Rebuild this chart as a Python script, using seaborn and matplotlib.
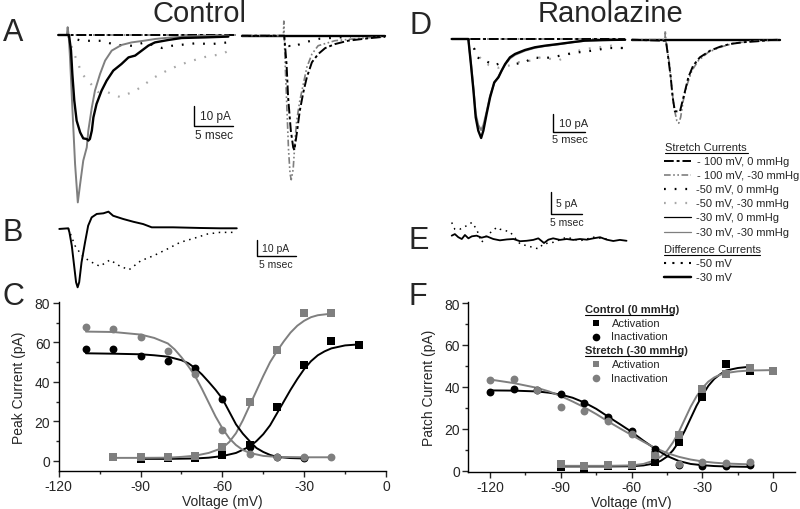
import matplotlib
matplotlib.use("Agg")
import matplotlib.pyplot as plt
import seaborn as sns

sns.set_style("ticks")
plt.rcParams["font.family"] = ["Liberation Sans", "DejaVu Sans"]
plt.rcParams["axes.unicode_minus"] = False

GRAY = "#7f7f7f"
LIGHT = "#a8a8a8"

# ---------------- panel C (control) : voltage (mV) / peak current (pA)
c_ctrl_act_v = [-90, -80, -70, -60, -50, -40, -30, -20, -10]
c_ctrl_act = [1.0, 1.2, 1.2, 2.9, 8.0, 27.1, 48.6, 60.5, 58.5]
c_str_act_v = [-100, -90, -80, -70, -60, -50, -40, -30, -20]
c_str_act = [1.7, 1.7, 1.7, 2.3, 7.1, 29.7, 56.3, 74.9, 74.9]
c_ctrl_inact_v = [-110, -100, -90, -80, -70, -60, -50, -40, -30]
c_ctrl_inact = [56.6, 56.6, 52.9, 50.7, 47.0, 31.4, 7.0, 2.0, 1.5]
c_str_inact_v = [-110, -100, -90, -80, -70, -60, -50, -40, -30, -20]
c_str_inact = [67.6, 66.8, 63.0, 55.9, 43.9, 15.6, 3.7, 2.0, 2.0, 2.0]

# fitted curves
c_fit_ctrl_act_v = [-90, -80, -70, -65, -60, -55, -50, -47.5, -45, -42.5, -40, -37.5, -35,
                    -32.5, -30, -27.5, -25, -22.5, -20, -15, -10]
c_fit_ctrl_act = [1.0, 1.0, 1.2, 1.6, 2.4, 4.0, 7.2, 10.0, 13.5, 18.0, 24.0, 30.0, 36.0,
                  41.5, 46.5, 50.5, 53.5, 55.5, 57.0, 58.5, 59.0]
c_fit_str_act_v = [-100, -90, -80, -75, -70, -65, -60, -57.5, -55, -52.5, -50, -47.5, -45,
                   -42.5, -40, -37.5, -35, -32.5, -30, -27.5, -25, -20]
c_fit_str_act = [1.5, 1.5, 1.6, 2.0, 2.6, 4.0, 6.5, 9.5, 14.0, 20.5, 28.0, 35.5, 43.0,
                 50.0, 55.5, 60.5, 65.0, 68.5, 71.0, 72.8, 73.8, 74.6]
c_fit_ctrl_inact_v = [-110, -100, -90, -85, -80, -75, -72.5, -70, -67.5, -65, -62.5, -60,
                      -57.5, -55, -52.5, -50, -47.5, -45, -42.5, -40, -35, -30]
c_fit_ctrl_inact = [54.5, 54.3, 54.0, 53.5, 52.8, 51.0, 49.5, 47.0, 43.8, 40.0, 36.0, 31.5,
                    25.0, 18.5, 13.8, 10.0, 6.5, 4.5, 3.0, 2.0, 1.4, 1.2]
c_fit_str_inact_v = [-110, -100, -90, -85, -80, -77.5, -75, -72.5, -70, -67.5, -65, -62.5,
                     -60, -57.5, -55, -52.5, -50, -45, -40, -30, -20]
c_fit_str_inact = [65.5, 65.3, 64.0, 62.3, 59.5, 56.5, 52.5, 48.0, 43.0, 36.5, 29.5, 22.5,
                   16.5, 11.5, 8.0, 5.5, 4.0, 2.5, 2.0, 1.8, 1.8]

# ---------------- panel F (ranolazine)
f_ctrl_act_v = [-90, -80, -70, -60, -50, -40, -30, -20, -10]
f_ctrl_act = [1.9, 0.8, 2.0, 2.2, 4.0, 13.9, 35.2, 50.7, 47.7]
f_str_act_v = [-90, -80, -70, -60, -50, -40, -30, -20, -10, 0]
f_str_act = [3.2, 2.4, 2.7, 2.9, 7.7, 16.8, 38.9, 45.9, 48.8, 47.5]
f_ctrl_inact_v = [-120, -110, -100, -90, -80, -70, -60, -50, -40, -30, -20, -10]
f_ctrl_inact = [37.6, 39.2, 38.7, 36.8, 32.5, 25.6, 19.0, 10.1, 2.9, 2.4, 2.4, 2.6]
f_str_inact_v = [-120, -110, -100, -90, -80, -70, -60, -50, -40, -30, -20, -10]
f_str_inact = [43.2, 43.7, 38.4, 30.4, 28.3, 23.5, 17.5, 7.5, 3.2, 4.0, 3.7, 4.3]

f_fit_ctrl_act_v = [-90, -70, -60, -55, -50, -47.5, -45, -42.5, -40, -37.5, -35, -32.5,
                    -30, -27.5, -25, -22.5, -20, -15, -10]
f_fit_ctrl_act = [2.0, 2.0, 2.1, 2.5, 3.5, 4.8, 6.7, 9.7, 13.8, 19.0, 25.0, 31.0,
                  36.0, 40.5, 43.8, 46.0, 47.8, 49.0, 49.6]
f_fit_str_act_v = [-90, -70, -60, -55, -50, -47.5, -45, -42.5, -40, -37.5, -35, -32.5,
                   -30, -27.5, -25, -22.5, -20, -15, -10, 0]
f_fit_str_act = [2.3, 2.3, 2.5, 3.2, 5.0, 6.8, 9.5, 13.5, 18.5, 24.5, 30.5, 35.5,
                 39.5, 42.5, 44.5, 45.8, 46.6, 47.4, 47.8, 48.0]
f_fit_ctrl_inact_v = [-120, -110, -100, -95, -90, -85, -80, -75, -70, -65, -60, -55, -50,
                      -45, -40, -35, -30, -25, -20, -10]
f_fit_ctrl_inact = [38.3, 38.2, 37.8, 37.2, 36.3, 34.8, 32.5, 29.5, 25.8, 22.2, 18.5, 14.3,
                    10.4, 7.0, 4.6, 3.2, 2.6, 2.2, 2.0, 1.8]
f_fit_str_inact_v = [-120, -110, -100, -95, -90, -85, -80, -75, -70, -65, -60, -55, -50,
                     -45, -40, -35, -30, -25, -20, -10]
f_fit_str_inact = [43.5, 41.8, 39.5, 37.8, 35.6, 33.0, 30.2, 27.0, 23.5, 20.2, 17.0, 13.8,
                   10.8, 8.4, 6.6, 5.3, 4.4, 3.8, 3.4, 3.0]

# ---------------- traces : (time ms, current pA)
a_left_flat = [(0, 0), (22.8, 0)]
a_m30_30 = [(0, 0), (1.1, 0), (1.2, 3.9), (1.33, -0.3), (1.5, -11.2), (1.8, -36.2),
            (2.15, -64.5), (2.5, -83.7), (2.8, -74.5), (3.2, -62.8), (3.65, -56.2),
            (3.85, -47.8), (4.3, -36.2), (4.7, -27.8), (5.35, -19.5), (6.0, -12.8),
            (6.85, -7.8), (8.1, -5.0), (9.4, -3.7), (11.1, -2.8), (12.4, -2.0),
            (14.5, -1.2), (16.7, -0.7), (18.8, -0.5), (21.8, -0.3)]
a_m30_0 = [(0, 0), (1.37, 0), (1.63, -7.8), (1.8, -19.5), (2.05, -32.8), (2.35, -42.8),
           (2.8, -48.7), (3.2, -51.7), (3.65, -52.0), (3.85, -52.8), (4.05, -52.0),
           (4.3, -47.8), (4.5, -41.2), (4.9, -34.5), (5.55, -27.8), (6.2, -22.8),
           (7.05, -17.8), (8.1, -14.5), (9.0, -11.2), (9.85, -10.3), (10.7, -7.8),
           (11.55, -5.3), (12.4, -3.7), (14.1, -2.5), (15.8, -1.5), (18.8, -1.2), (21.8, -0.8)]
a_m50_30 = [(1.25, -0.5), (1.9, -8.0), (3.05, -19.5), (5.1, -28.5), (6.25, -28.5),
            (7.9, -31.0), (9.2, -29.0), (10.2, -27.0), (12.4, -21.0), (14.3, -17.0),
            (16.6, -13.5), (18.8, -11.0), (21.0, -9.5), (22.3, -7.0)]
a_m50_0 = [(1.25, 0), (2.15, -2.0), (3.05, -2.9), (5.6, -2.9), (7.25, -4.9), (9.45, -5.4),
           (11.1, -3.7), (13.3, -6.5), (14.55, -5.4), (17.5, -4.2), (19.7, -4.5), (21.75, -3.7)]

a_right_flat = [(0, 0), (18.4, 0)]
a_m100_0 = [(0, 0), (5.45, 0), (5.75, -14.2), (5.95, -30.8), (6.3, -47.5), (6.6, -55.8),
            (6.75, -57.2), (7.05, -49.2), (7.45, -37.5), (7.9, -28.3), (8.35, -20.8),
            (9.0, -13.3), (9.8, -9.2), (10.7, -6.2), (11.95, -4.2), (13.65, -2.5),
            (16.2, -1.3), (18.4, -0.5)]
a_m100_30 = [(0, 0), (5.35, 0), (5.4, 7.3), (5.45, 0.3), (5.6, -16.7), (5.8, -36.7),
             (6.0, -56.7), (6.2, -69.0), (6.35, -72.0), (6.6, -66.7), (6.85, -51.7),
             (7.05, -42.5), (7.45, -32.5), (7.9, -24.2), (8.35, -15.8), (9.0, -9.2),
             (9.8, -5.0), (11.95, -2.5), (15.4, -1.2), (18.4, -0.5)]
a_right_m50 = [(5.45, 0), (6.2, -5.8), (6.6, -5.5), (8.1, -3.3), (10.0, -1.5), (14.0, -0.5)]

b_diff_30 = [(0, -0.4), (1.15, 0), (1.3, -2.5), (1.6, -10.6), (1.9, -22.9), (2.15, -33.1),
             (2.35, -36.2), (2.55, -33.1), (2.85, -20.9), (3.3, -8.6), (3.7, 1.6), (4.15, 6.7),
             (4.8, 8.8), (5.65, 9.2), (6.3, 10.2), (6.9, 7.7), (8.2, 5.7), (9.5, 4.0),
             (10.75, 2.6), (11.85, 0.6), (12.9, 0.6), (14.6, 0.6), (18.05, 0.2), (20.6, 0),
             (22.75, 0)]
b_diff_50 = [(1.15, 0), (1.6, -5.5), (2.0, -10.6), (2.45, -13.7), (3.1, -17.7), (4.15, -20.8),
             (5.2, -23.3), (6.5, -19.4), (7.8, -23.3), (8.95, -25.4), (10.45, -19.9),
             (12.1, -16.8), (13.85, -12.7), (15.5, -8.6), (17.3, -6.1), (19.0, -3.5),
             (20.6, -2.5), (22.3, -2.5)]

d_left_flat = [(0, 0), (27.1, 0)]
d_m30_0 = [(0, 0), (2.6, 0), (3.0, -13.9), (3.4, -28.7), (3.75, -43.5), (4.15, -50.9),
           (4.6, -55.0), (4.95, -50.9), (5.45, -41.7), (6.0, -32.4), (6.65, -24.1),
           (7.3, -21.3), (7.8, -17.6), (8.35, -13.9), (9.1, -10.2), (9.9, -8.3), (11.45, -6.1),
           (13.0, -4.6), (14.6, -3.7), (16.65, -2.8), (18.75, -1.8), (20.8, -0.9),
           (23.45, -0.6), (27.1, -0.4)]
d_m30_30 = [(0, 0), (2.6, 0), (3.0, -13.0), (3.4, -27.5), (3.75, -41.5), (4.15, -47.8),
            (4.6, -50.6), (4.95, -47.8), (5.45, -40.5), (6.0, -31.5), (6.65, -24.5),
            (7.3, -21.0), (7.8, -17.5), (8.35, -14.2), (9.1, -10.8), (9.9, -8.8),
            (11.45, -6.5), (13.0, -4.9), (14.6, -3.9), (16.65, -3.0), (18.75, -1.9),
            (20.8, -1.0), (23.45, -0.7), (27.1, -0.4)]
d_m50_0 = [(2.6, 0), (3.55, -5.6), (3.9, -10.2), (4.7, -11.1), (5.7, -12.9), (6.5, -14.8),
           (7.55, -13.5), (8.85, -12.1), (9.9, -13.9), (11.45, -12.9), (12.75, -10.2),
           (14.05, -10.7), (15.6, -10.2), (16.9, -9.3), (18.2, -8.3), (19.8, -7.4),
           (21.9, -6.5), (24.45, -5.0), (27.1, -5.0)]
d_m50_30 = [(2.6, 0), (3.6, -6.0), (4.3, -10.0), (5.8, -14.5), (7.3, -16.0), (8.9, -14.8),
            (10.4, -12.9), (12.4, -12.0), (14.0, -10.0), (16.7, -12.0), (18.8, -7.4),
            (21.0, -5.5), (23.0, -4.6), (25.0, -3.7), (27.1, -5.5)]

d_right_flat = [(0, 0), (23.2, 0)]
d_m100_0 = [(0, 0), (5.35, -0.6), (5.7, -9.8), (6.1, -20.9), (6.4, -32.0), (6.75, -39.8),
            (7.55, -39.8), (7.95, -33.9), (8.35, -28.3), (8.85, -20.9), (9.6, -14.4),
            (10.65, -9.8), (12.25, -6.1), (13.8, -3.9), (15.35, -2.4), (17.45, -1.4),
            (19.55, -0.9), (21.6, -0.2), (23.2, 0)]
d_m100_30 = [(0, 0), (5.2, 0), (5.25, 5.0), (5.35, -0.6), (5.9, -13.5), (6.25, -26.4),
             (6.6, -37.6), (7.05, -45.0), (7.35, -46.4), (7.65, -43.1), (8.05, -33.9),
             (8.6, -25.6), (9.4, -17.2), (10.4, -11.7), (11.95, -7.0), (13.8, -4.2),
             (15.9, -2.0), (18.5, -0.9), (21.6, -0.2), (23.2, 0)]

e_diff_30 = [(0, 0.75), (0.5, 1.1), (1.05, 0.4), (1.6, 0), (2.1, 0.9), (2.65, 0.15),
             (3.2, 0.6), (3.95, 0.75), (4.75, 0.3), (5.55, 0.6), (6.6, 0), (7.65, -0.3),
             (8.75, -0.1), (9.8, 0), (10.85, -0.5), (11.9, -0.4), (12.95, -0.2),
             (13.75, 0.15), (14.65, -0.9), (15.35, -0.15), (16.1, 0.15), (17.2, -0.2),
             (18.25, 0), (19.3, -0.2), (20.35, 0), (21.45, -0.15), (22.5, 0.15),
             (23.55, 0.4), (24.6, -0.15), (25.65, -0.45), (26.7, -0.2), (27.75, -0.4)]
e_diff_50 = [(0, 3.7), (0.5, 2.2), (1.3, 2.2), (2.4, 3.0), (3.2, 3.7), (3.95, 2.2),
             (4.75, -0.75), (5.55, 0.75), (7.15, 2.6), (7.65, 2.2), (9.25, 1.6),
             (10.85, -1.1), (11.9, -1.5), (12.95, -1.9), (13.75, -2.2), (14.55, -1.1),
             (16.1, -0.75), (18.25, 0.4), (20.35, -0.4), (22.5, 0.4), (24.6, 0)]

legend_labels = ["- 100 mV, 0 mmHg", "- 100 mV, -30 mmHg", "-50 mV, 0 mmHg",
                 "-50 mV, -30 mmHg", "-30 mV, 0 mmHg", "-30 mV, -30 mmHg"]
diff_labels = ["-50 mV", "-30 mV"]

W, H = 800, 510
fig = plt.figure(figsize=(8, 5.1), dpi=100)

STY = {
    "m100_0": dict(color="black", lw=1.4, ls=(0, (5, 1.5, 1.5, 1.5))),
    "m100_30": dict(color=GRAY, lw=1.2, ls=(0, (4, 1.5, 1, 1.5, 1, 1.5))),
    "m50_0": dict(color="black", lw=1.6, ls=(0, (0.8, 4))),
    "m50_30": dict(color=LIGHT, lw=1.6, ls=(0, (0.8, 4))),
    "m30_0": dict(color="black", lw=1.7, ls="-"),
    "m30_30": dict(color=GRAY, lw=1.4, ls="-"),
    "d50": dict(color="black", lw=1.1, ls=(0, (1, 3))),
    "d30": dict(color="black", lw=1.4, ls="-"),
}


def place(x0, y0, x1, y1):
    return fig.add_axes([x0 / W, 1 - y1 / H, (x1 - x0) / W, (y1 - y0) / H])


def trace_axes(x0, y0, x1, y1, t_px, base_px, px_ms, px_pa):
    ax = place(x0, y0, x1, y1)
    ax.set_xlim((x0 - t_px) / px_ms, (x1 - t_px) / px_ms)
    ax.set_ylim(-(y1 - base_px) / px_pa, -(y0 - base_px) / px_pa)
    ax.axis("off")
    return ax


def trace(ax, pts, key):
    t = [p[0] for p in pts]
    i = [p[1] for p in pts]
    s = STY[key]
    ax.plot(t, i, color=s["color"], lw=s["lw"], linestyle=s["ls"], solid_joinstyle="round")


def scale_bar(ax, t0, top, dt, di, fs, lab_v, lab_h):
    ax.plot([t0, t0, t0 + dt], [top, top - di, top - di], color="black", lw=1.0)
    ax.annotate(lab_v, (t0, top - di / 2), xytext=(4, 0), textcoords="offset points",
                ha="left", va="center", fontsize=fs)
    ax.annotate(lab_h, (t0 + dt / 2, top - di), xytext=(0, -2), textcoords="offset points",
                ha="center", va="top", fontsize=fs)


# ---- A
ax = trace_axes(50, 15, 240, 215, 58.3, 36, 7.8, 2.0)
trace(ax, a_left_flat, "m100_30")
trace(ax, a_left_flat, "m100_0")
trace(ax, a_m50_30, "m50_30")
trace(ax, a_m50_0, "m50_0")
trace(ax, a_m30_30, "m30_30")
trace(ax, a_m30_0, "m30_0")
scale_bar(ax, 17.4, -35.7, 5, 10, 8.5, "10 pA", "5 msec")

ax = trace_axes(238, 15, 392, 215, 241.7, 36.7, 7.8, 2.0)
trace(ax, a_right_flat, "m30_30")
trace(ax, a_right_flat, "m30_0")
trace(ax, a_right_m50, "m50_0")
trace(ax, a_m100_30, "m100_30")
trace(ax, a_m100_0, "m100_0")

# ---- B
ax = trace_axes(50, 200, 310, 300, 59.3, 229.3, 7.8, 1.63)
trace(ax, b_diff_50, "d50")
trace(ax, b_diff_30, "d30")
scale_bar(ax, 25.3, -7.2, 5, 10, 7.5, "10 pA", "5 msec")

# ---- D
ax = trace_axes(445, 20, 630, 160, 451.7, 40, 6.4, 1.8)
trace(ax, d_left_flat, "m100_30")
trace(ax, d_left_flat, "m100_0")
trace(ax, d_m50_30, "m50_30")
trace(ax, d_m50_0, "m50_0")
trace(ax, d_m30_30, "m30_30")
trace(ax, d_m30_0, "m30_0")
scale_bar(ax, 15.9, -41.4, 5, 10, 8.0, "10 pA", "5 msec")

ax = trace_axes(628, 20, 790, 140, 631.7, 40.7, 6.4, 1.8)
trace(ax, d_right_flat, "m30_30")
trace(ax, d_right_flat, "m30_0")
trace(ax, d_m100_30, "m100_30")
trace(ax, d_m100_0, "m100_0")

# ---- E
ax = trace_axes(445, 180, 640, 260, 451.7, 240, 6.3, 4.46)
trace(ax, e_diff_50, "d50")
ax.plot([p[0] for p in e_diff_30], [p[1] for p in e_diff_30], color="black", lw=1.3)
scale_bar(ax, 15.7, 10.6, 5, 5, 7.5, "5 pA", "5 msec")


# ---- C and F
def iv_axes(ax, series, ylabel, xlim, ylim, xticks):
    for vx, vy, col, mk, sz in series["pts"]:
        sns.scatterplot(x=vx, y=vy, color=col, marker=mk, s=sz, linewidth=0, ax=ax, zorder=3)
    for vx, vy, col in series["fits"]:
        sns.lineplot(x=vx, y=vy, color=col, lw=1.4, ax=ax, sort=False, estimator=None, zorder=2)
    ax.set_xlim(*xlim)
    ax.set_ylim(*ylim)
    ax.set_xticks(xticks)
    ax.set_xticks([x + 15 for x in xticks[:-1]], minor=True)
    ax.set_yticks([0, 20, 40, 60, 80])
    ax.set_yticks([10, 30, 50, 70], minor=True)
    ax.tick_params(which="major", direction="out", length=4, width=1, labelsize=10, pad=2)
    ax.tick_params(which="minor", direction="out", length=2.5, width=1)
    ax.set_xlabel("Voltage (mV)", fontsize=10, labelpad=0.5)
    ax.set_ylabel(ylabel, fontsize=10, labelpad=6)
    sns.despine(ax=ax)
    for sp in ax.spines.values():
        sp.set_linewidth(1.0)
        sp.set_color("black")


axc = place(58.7, 303, 386, 471.7)
iv_axes(axc, {
    "pts": [(c_ctrl_act_v, c_ctrl_act, "black", "s", 26),
            (c_str_act_v, c_str_act, GRAY, "s", 26),
            (c_ctrl_inact_v, c_ctrl_inact, "black", "o", 32),
            (c_str_inact_v, c_str_inact, GRAY, "o", 32)],
    "fits": [(c_fit_ctrl_act_v, c_fit_ctrl_act, "black"),
             (c_fit_str_act_v, c_fit_str_act, GRAY),
             (c_fit_ctrl_inact_v, c_fit_ctrl_inact, "black"),
             (c_fit_str_inact_v, c_fit_str_inact, GRAY)],
}, "Peak Current (pA)", (-120, 0), (-5, 80.5), [-120, -90, -60, -30, 0])

axf = place(468.3, 303, 795, 472.7)
iv_axes(axf, {
    "pts": [(f_ctrl_act_v, f_ctrl_act, "black", "s", 26),
            (f_str_act_v, f_str_act, GRAY, "s", 26),
            (f_ctrl_inact_v, f_ctrl_inact, "black", "o", 32),
            (f_str_inact_v, f_str_inact, GRAY, "o", 32)],
    "fits": [(f_fit_ctrl_act_v, f_fit_ctrl_act, "black"),
             (f_fit_str_act_v, f_fit_str_act, GRAY),
             (f_fit_ctrl_inact_v, f_fit_ctrl_inact, "black"),
             (f_fit_str_inact_v, f_fit_str_inact, GRAY)],
}, "Patch Current (pA)", (-129.2, 9.2), (-0.5, 80.5), [-120, -90, -60, -30, 0])

# ---- overlay: titles, letters, legends (pixel coordinates)
ov = fig.add_axes([0, 0, 1, 1], facecolor="none")
ov.set_xlim(0, W)
ov.set_ylim(H, 0)
ov.axis("off")

ov.text(200, 14, "Control", fontsize=21, ha="center", va="center")
ov.text(611, 14, "Ranolazine", fontsize=21, ha="center", va="center")
for lx, ly, letter in [(13, 33, "A"), (13, 233, "B"), (13, 297, "C"),
                       (420, 26, "D"), (419, 241, "E"), (418, 297, "F")]:
    ov.text(lx, ly, letter, fontsize=22, ha="center", va="center")


def heading(x, y, s, bold=False, x_end=None):
    t = ov.text(x, y, s, fontsize=8, ha="left", va="center",
                fontweight="bold" if bold else "normal")
    ov.plot([x, x_end], [y + 5.5, y + 5.5], color="black", lw=0.8)
    return t


heading(665, 148, "Stretch Currents", x_end=748)
leg_keys = ["m100_0", "m100_30", "m50_0", "m50_30", "m30_0", "m30_30"]
leg_y = [162, 176, 190, 204, 218, 233]
for key, lab, yy in zip(leg_keys, legend_labels, leg_y):
    s = STY[key]
    lw = 0.9 if key.startswith("m30") else s["lw"]
    ov.plot([664, 691], [yy, yy], color=s["color"], lw=lw, linestyle=s["ls"])
    ov.text(697 if lab.startswith("- ") else 696, yy, lab, fontsize=8, ha="left", va="center")
heading(664, 250, "Difference Currents", x_end=760)
for key, lab, yy in zip(["d50", "d30"], diff_labels, [264, 278]):
    s = STY[key]
    ov.plot([664, 691], [yy, yy], color=s["color"], lw=s["lw"] + 0.4, linestyle=s["ls"])
    ov.text(696, yy, lab, fontsize=8, ha="left", va="center")

heading(585, 310, "Control (0 mmHg)", bold=True, x_end=673)
heading(585, 351.5, "Stretch (-30 mmHg)", bold=True, x_end=681)
for yy, col, mk, lab in [(324, "black", "s", "Activation"), (337.5, "black", "o", "Inactivation"),
                         (365, GRAY, "s", "Activation"), (379, GRAY, "o", "Inactivation")]:
    ov.plot([596], [yy], marker=mk, color=col, ms=5 if mk == "s" else 5.5, mew=0)
    ov.text(611.5, yy, lab, fontsize=8, ha="left", va="center")

fig.savefig("out.png", dpi=100)
